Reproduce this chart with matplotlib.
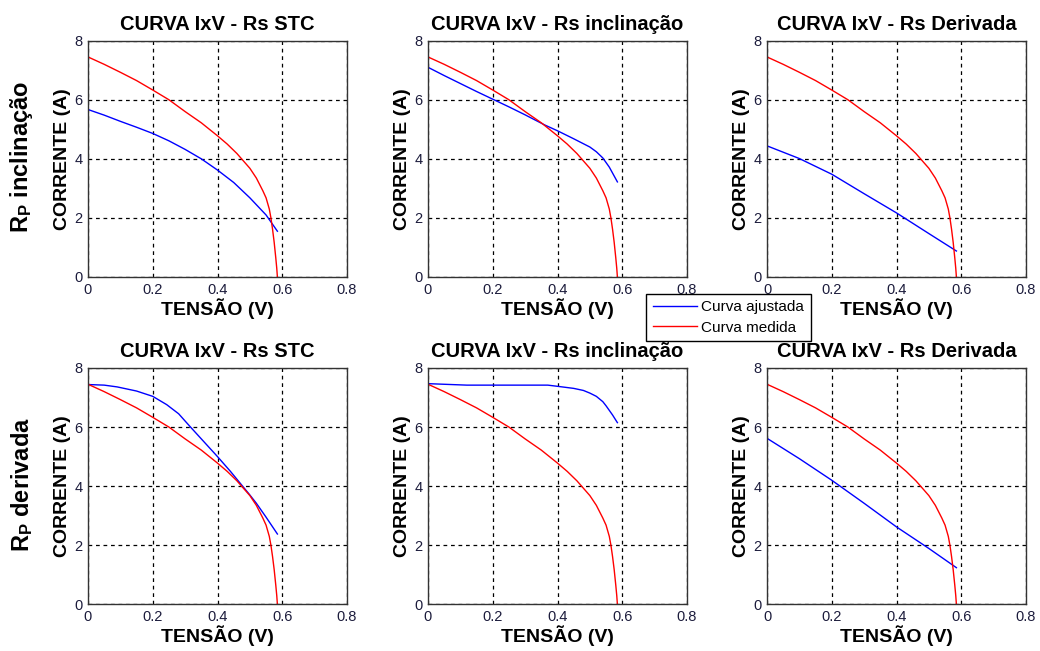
import matplotlib
matplotlib.use("Agg")
import matplotlib.pyplot as plt
from matplotlib.lines import Line2D

plt.rcParams['font.family'] = ['Liberation Sans', 'DejaVu Sans']
plt.rcParams['mathtext.fontset'] = 'custom'
plt.rcParams['mathtext.rm'] = 'Liberation Sans'
plt.rcParams['mathtext.bf'] = 'Liberation Sans:bold'

# Measured I-V curve (same in every panel)
v_medida = [0.00, 0.05, 0.10, 0.15, 0.20, 0.25, 0.30, 0.35, 0.40, 0.43, 0.46,
            0.48, 0.50, 0.52, 0.54, 0.55, 0.56, 0.565, 0.57, 0.575, 0.58,
            0.583, 0.585]
i_medida = [7.45, 7.20, 6.93, 6.65, 6.33, 6.00, 5.60, 5.22, 4.78, 4.50, 4.18,
            3.93, 3.68, 3.35, 2.92, 2.68, 2.30, 2.00, 1.62, 1.18, 0.65,
            0.30, 0.00]

# Fitted curves: row = Rp method, column = Rs method
v_rpi_stc = [0.0, 0.05, 0.1, 0.15, 0.2, 0.25, 0.3, 0.35, 0.4, 0.45, 0.5, 0.55, 0.585]
i_rpi_stc = [5.67, 5.48, 5.27, 5.07, 4.86, 4.61, 4.32, 4.0, 3.62, 3.2, 2.68, 2.10, 1.55]

v_rpi_inc = [0.0, 0.05, 0.1, 0.15, 0.2, 0.25, 0.3, 0.36, 0.4, 0.45, 0.5, 0.52,
             0.54, 0.56, 0.585]
i_rpi_inc = [7.10, 6.82, 6.55, 6.28, 6.02, 5.76, 5.49, 5.15, 4.95, 4.68, 4.40, 4.24,
             4.03, 3.72, 3.22]

v_rpi_der = [0.0, 0.1, 0.2, 0.3, 0.4, 0.5, 0.585]
i_rpi_der = [4.44, 4.01, 3.48, 2.82, 2.17, 1.47, 0.88]

v_rpd_stc = [0.0, 0.05, 0.09, 0.15, 0.2, 0.243, 0.28, 0.315, 0.35, 0.4,
             0.44, 0.47, 0.5, 0.52, 0.55, 0.585]
i_rpd_stc = [7.44, 7.42, 7.36, 7.22, 7.04, 6.76, 6.45, 6.02, 5.6, 5.0,
             4.5, 4.1, 3.7, 3.42, 2.95, 2.38]

v_rpd_inc = [0.0, 0.12, 0.37, 0.4, 0.45, 0.48, 0.5, 0.52, 0.54, 0.55, 0.57, 0.585]
i_rpd_inc = [7.47, 7.42, 7.42, 7.38, 7.31, 7.24, 7.15, 7.04, 6.86, 6.72, 6.41, 6.15]

v_rpd_der = [0.0, 0.1, 0.2, 0.3, 0.4, 0.5, 0.585]
i_rpd_der = [5.62, 4.93, 4.2, 3.42, 2.62, 1.89, 1.24]

titulos = ['CURVA IxV - Rs STC', 'CURVA IxV - Rs inclinação', 'CURVA IxV - Rs Derivada']
linhas = [r'$\mathbf{R_P}$ inclinação', r'$\mathbf{R_P}$ derivada']
ajustadas = [[(v_rpi_stc, i_rpi_stc), (v_rpi_inc, i_rpi_inc), (v_rpi_der, i_rpi_der)],
             [(v_rpd_stc, i_rpd_stc), (v_rpd_inc, i_rpd_inc), (v_rpd_der, i_rpd_der)]]
x_ticks = [0, 0.2, 0.4, 0.6, 0.8]
x_ticklabels = ['0', '0.2', '0.4', '0.6', '0.8']
y_ticks = [0, 2, 4, 6, 8]

W, H = 1040, 651
fig = plt.figure(figsize=(W / 100, H / 100), dpi=100)

col_left = [88, 428, 767]
row_top = [40.7, 368]
ax_w, ax_h = 259, 236.3
tick_color = '#1c1c3c'

for r in range(2):
    for c in range(3):
        ax = fig.add_axes([col_left[c] / W, 1 - (row_top[r] + ax_h) / H, ax_w / W, ax_h / H])
        v_aj, i_aj = ajustadas[r][c]
        ax.plot(v_aj, i_aj, color='#0000ff', lw=1.0)
        ax.plot(v_medida, i_medida, color='#ff0000', lw=1.0)
        ax.set_xlim(0, 0.8)
        ax.set_ylim(0, 8)
        ax.set_xticks(x_ticks)
        ax.set_xticklabels(x_ticklabels)
        ax.set_yticks(y_ticks)
        ax.grid(True, color='black', linestyle=(0, (3, 3)), lw=0.9)
        ax.tick_params(length=0, labelsize=10.5, colors=tick_color, pad=4)
        for s in ax.spines.values():
            s.set_color('#333333')
            s.set_linewidth(1.0)
        ax.set_title(titulos[c], fontsize=14.5, fontweight='bold', pad=8)
        ax.set_xlabel('TENSÃO (V)', fontsize=14, fontweight='bold', labelpad=1)
        ax.set_ylabel('CORRENTE (A)', fontsize=14, fontweight='bold', labelpad=2)

for r, txt in enumerate(linhas):
    yc = row_top[r] + ax_h / 2 - 2
    fig.text(22 / W, 1 - yc / H, txt, rotation=90, ha='center', va='center',
             fontsize=17, fontweight='bold')

handles = [Line2D([], [], color='#0000ff', lw=1.0), Line2D([], [], color='#ff0000', lw=1.0)]
leg = fig.legend(handles, ['Curva ajustada', 'Curva medida'], loc='center',
                 bbox_to_anchor=(728.5 / W, 1 - 317.5 / H), fontsize=11,
                 fancybox=False, edgecolor='black', framealpha=1,
                 handlelength=2.9, handletextpad=0.25, borderpad=0.45,
                 labelspacing=0.4, borderaxespad=0)
leg.get_frame().set_linewidth(1.0)

fig.savefig('out.png', dpi=100, facecolor='white')
